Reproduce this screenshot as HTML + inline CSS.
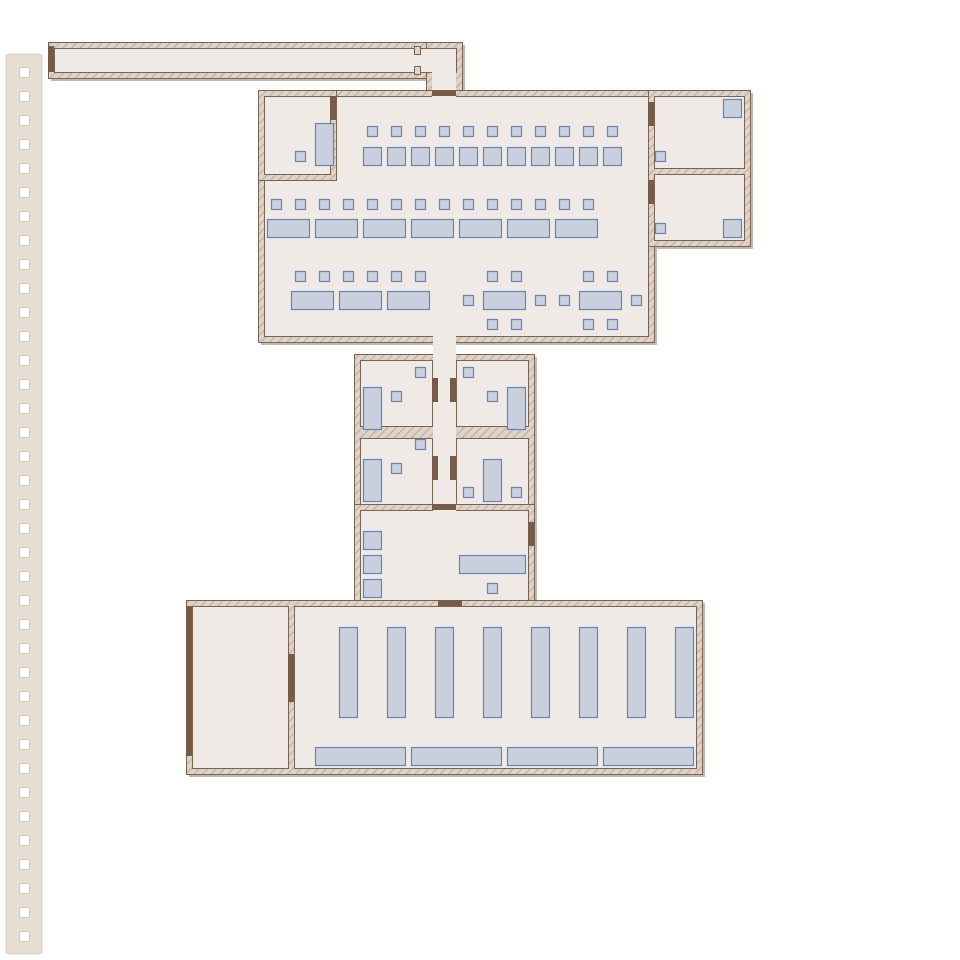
<!DOCTYPE html>
<html><head><meta charset="utf-8"><style>body{margin:0;background:#fff}svg{display:block}</style></head><body>
<svg width="960" height="960" viewBox="0 0 960 960" xmlns="http://www.w3.org/2000/svg">
<defs>
<pattern id="h" width="6" height="6" patternUnits="userSpaceOnUse" patternTransform="rotate(45)">
<rect width="6" height="6" fill="#ddd3c9"/><line x1="0" y1="0" x2="0" y2="6" stroke="#b9aa9b" stroke-width="2"/>
</pattern>
<rect id="s" width="10" height="10"/>
<rect id="b" width="18" height="18"/>
<rect id="l" width="42" height="18"/>
<rect id="t" width="18" height="42"/>
<rect id="q" width="10" height="10" rx="1.5"/>
</defs>
<rect x="6" y="54" width="36" height="900" rx="3" fill="#e6ddd3" stroke="#d9cec2"/>
<g fill="#fff" stroke="#d4c9bd">
<use href="#q" x="19.5" y="67.5"/><use href="#q" x="19.5" y="91.5"/><use href="#q" x="19.5" y="115.5"/><use href="#q" x="19.5" y="139.5"/><use href="#q" x="19.5" y="163.5"/><use href="#q" x="19.5" y="187.5"/><use href="#q" x="19.5" y="211.5"/><use href="#q" x="19.5" y="235.5"/><use href="#q" x="19.5" y="259.5"/><use href="#q" x="19.5" y="283.5"/><use href="#q" x="19.5" y="307.5"/><use href="#q" x="19.5" y="331.5"/><use href="#q" x="19.5" y="355.5"/><use href="#q" x="19.5" y="379.5"/><use href="#q" x="19.5" y="403.5"/><use href="#q" x="19.5" y="427.5"/><use href="#q" x="19.5" y="451.5"/><use href="#q" x="19.5" y="475.5"/><use href="#q" x="19.5" y="499.5"/><use href="#q" x="19.5" y="523.5"/><use href="#q" x="19.5" y="547.5"/><use href="#q" x="19.5" y="571.5"/><use href="#q" x="19.5" y="595.5"/><use href="#q" x="19.5" y="619.5"/><use href="#q" x="19.5" y="643.5"/><use href="#q" x="19.5" y="667.5"/><use href="#q" x="19.5" y="691.5"/><use href="#q" x="19.5" y="715.5"/><use href="#q" x="19.5" y="739.5"/><use href="#q" x="19.5" y="763.5"/><use href="#q" x="19.5" y="787.5"/><use href="#q" x="19.5" y="811.5"/><use href="#q" x="19.5" y="835.5"/><use href="#q" x="19.5" y="859.5"/><use href="#q" x="19.5" y="883.5"/><use href="#q" x="19.5" y="907.5"/><use href="#q" x="19.5" y="931.5"/>
</g>
<g fill="#c6b8ab">
<rect x="51" y="45" width="414" height="36"/><rect x="429" y="45" width="36" height="54"/>
<rect x="261" y="93" width="396" height="252"/><rect x="651" y="93" width="102" height="156"/>
<rect x="357" y="357" width="180" height="252"/>
<rect x="189" y="603" width="516" height="174"/>
</g>
<g fill="url(#h)" stroke="#7a6350" stroke-width="1">
<rect x="48.5" y="42.5" width="414" height="36"/><rect x="426.5" y="42.5" width="36" height="54"/>
<rect x="258.5" y="90.5" width="396" height="252"/><rect x="648.5" y="90.5" width="102" height="156"/>
<rect x="354.5" y="354.5" width="84" height="156"/><rect x="450.5" y="354.5" width="84" height="156"/>
<rect x="354.5" y="504.5" width="180" height="102"/>
<rect x="186.5" y="600.5" width="516" height="174"/>
</g>
<g fill="#efeae6" stroke="#7a6350" stroke-width="1">
<rect x="54.5" y="48.5" width="402" height="24"/>
<rect x="264.5" y="96.5" width="384" height="240"/>
<rect x="654.5" y="96.5" width="90" height="72"/><rect x="654.5" y="174.5" width="90" height="66"/>
<rect x="360.5" y="360.5" width="72" height="66"/><rect x="360.5" y="438.5" width="72" height="66"/>
<rect x="456.5" y="360.5" width="72" height="66"/><rect x="456.5" y="438.5" width="72" height="66"/>
<rect x="360.5" y="510.5" width="168" height="90"/>
<rect x="192.5" y="606.5" width="96" height="162"/><rect x="294.5" y="606.5" width="402" height="162"/>
</g>
<rect x="258.5" y="90.5" width="78" height="90" fill="url(#h)" stroke="#7a6350"/>
<rect x="264.5" y="96.5" width="66" height="78" fill="#efeae6" stroke="#7a6350"/>
<g fill="#efeae6">
<rect x="432" y="49" width="24" height="48"/>
<rect x="433" y="336" width="23" height="175"/>
</g>
<rect x="414.5" y="46.5" width="6" height="8" fill="#ddd3c9" stroke="#7a6350"/>
<rect x="414.5" y="66.5" width="6" height="8" fill="#ddd3c9" stroke="#7a6350"/>
<g fill="#765b48">
<rect x="48" y="46" width="6" height="26"/><rect x="432" y="90" width="24" height="6"/>
<rect x="330" y="96" width="6" height="24"/>
<rect x="648" y="102" width="6" height="24"/><rect x="648" y="180" width="6" height="24"/>
<rect x="432" y="378" width="6" height="24"/><rect x="432" y="456" width="6" height="24"/>
<rect x="450" y="378" width="6" height="24"/><rect x="450" y="456" width="6" height="24"/>
<rect x="432" y="504" width="24" height="6"/><rect x="528" y="522" width="6" height="24"/>
<rect x="438" y="600" width="24" height="6"/>
<rect x="186" y="606" width="6" height="150"/><rect x="288" y="654" width="6" height="48"/>
</g>
<g fill="#c8d0de" stroke="#6a84b0" stroke-width="1.2" transform="translate(0.5,0.5)">
<use href="#s" x="367" y="126"/><use href="#s" x="391" y="126"/><use href="#s" x="415" y="126"/><use href="#s" x="439" y="126"/><use href="#s" x="463" y="126"/><use href="#s" x="487" y="126"/><use href="#s" x="511" y="126"/><use href="#s" x="535" y="126"/><use href="#s" x="559" y="126"/><use href="#s" x="583" y="126"/><use href="#s" x="607" y="126"/>
<use href="#b" x="363" y="147"/><use href="#b" x="387" y="147"/><use href="#b" x="411" y="147"/><use href="#b" x="435" y="147"/><use href="#b" x="459" y="147"/><use href="#b" x="483" y="147"/><use href="#b" x="507" y="147"/><use href="#b" x="531" y="147"/><use href="#b" x="555" y="147"/><use href="#b" x="579" y="147"/><use href="#b" x="603" y="147"/>
<rect x="315" y="123" width="18" height="42"/><use href="#s" x="295" y="151"/>
<use href="#s" x="271" y="199"/><use href="#s" x="295" y="199"/><use href="#s" x="319" y="199"/><use href="#s" x="343" y="199"/><use href="#s" x="367" y="199"/><use href="#s" x="391" y="199"/><use href="#s" x="415" y="199"/><use href="#s" x="439" y="199"/><use href="#s" x="463" y="199"/><use href="#s" x="487" y="199"/><use href="#s" x="511" y="199"/><use href="#s" x="535" y="199"/><use href="#s" x="559" y="199"/><use href="#s" x="583" y="199"/>
<use href="#l" x="267" y="219"/><use href="#l" x="315" y="219"/><use href="#l" x="363" y="219"/><use href="#l" x="411" y="219"/><use href="#l" x="459" y="219"/><use href="#l" x="507" y="219"/><use href="#l" x="555" y="219"/>
<use href="#s" x="295" y="271"/><use href="#s" x="319" y="271"/><use href="#s" x="343" y="271"/><use href="#s" x="367" y="271"/><use href="#s" x="391" y="271"/><use href="#s" x="415" y="271"/>
<use href="#l" x="291" y="291"/><use href="#l" x="339" y="291"/><use href="#l" x="387" y="291"/>
<use href="#s" x="487" y="271"/><use href="#s" x="511" y="271"/><use href="#s" x="487" y="319"/><use href="#s" x="511" y="319"/><use href="#l" x="483" y="291"/><use href="#s" x="463" y="295"/><use href="#s" x="535" y="295"/>
<use href="#s" x="583" y="271"/><use href="#s" x="607" y="271"/><use href="#s" x="583" y="319"/><use href="#s" x="607" y="319"/><use href="#l" x="579" y="291"/><use href="#s" x="559" y="295"/><use href="#s" x="631" y="295"/>
<use href="#b" x="723" y="99"/><use href="#b" x="723" y="219"/><use href="#s" x="655" y="151"/><use href="#s" x="655" y="223"/>
<use href="#s" x="415" y="367"/><use href="#t" x="363" y="387"/><use href="#s" x="391" y="391"/>
<use href="#s" x="463" y="367"/><use href="#s" x="487" y="391"/><use href="#t" x="507" y="387"/>
<use href="#s" x="415" y="439"/><use href="#t" x="363" y="459"/><use href="#s" x="391" y="463"/>
<use href="#t" x="483" y="459"/><use href="#s" x="463" y="487"/><use href="#s" x="511" y="487"/>
<use href="#b" x="363" y="531"/><use href="#b" x="363" y="555"/><use href="#b" x="363" y="579"/>
<rect x="459" y="555" width="66" height="18"/><use href="#s" x="487" y="583"/>
<rect x="339" y="627" width="18" height="90"/><rect x="387" y="627" width="18" height="90"/><rect x="435" y="627" width="18" height="90"/><rect x="483" y="627" width="18" height="90"/><rect x="531" y="627" width="18" height="90"/><rect x="579" y="627" width="18" height="90"/><rect x="627" y="627" width="18" height="90"/><rect x="675" y="627" width="18" height="90"/>
<rect x="315" y="747" width="90" height="18"/><rect x="411" y="747" width="90" height="18"/><rect x="507" y="747" width="90" height="18"/><rect x="603" y="747" width="90" height="18"/>
</g>
</svg>
</body></html>
